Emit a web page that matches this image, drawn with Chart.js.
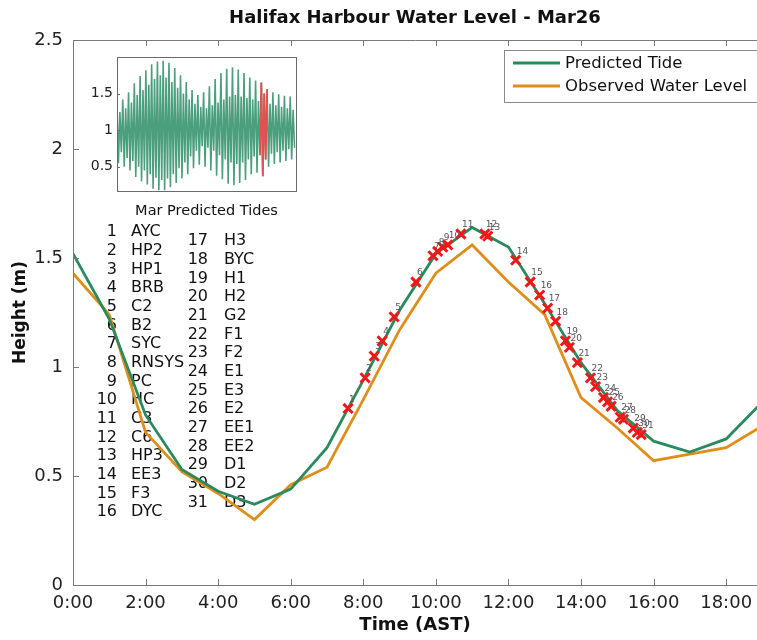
<!DOCTYPE html>
<html>
<head>
<meta charset="utf-8">
<script src="https://cdn.jsdelivr.net/npm/chart.js@4"></script>
<style>
  body { margin: 0; background: #fff; }
  #wrap { position: relative; width: 757px; height: 640px; }
  #main { position: absolute; left: 0; top: 0; }
  #inset { position: absolute; left: 78px; top: 44px; }
</style>
</head>
<body>
<div id="wrap">
  <canvas id="main" width="757" height="640"></canvas>
  <canvas id="inset" width="224" height="178"></canvas>
</div>
<script>
// hourly water levels, Mar 26 (m)
const hours = [0, 1, 2, 3, 4, 5, 6, 7, 8, 9, 10, 11, 12, 13, 14, 15, 16, 17, 18, 19];
const predicted = [1.52, 1.22, 0.78, 0.53, 0.43, 0.37, 0.44, 0.63, 0.94, 1.26, 1.52, 1.64, 1.55, 1.29, 1.02, 0.80, 0.66, 0.61, 0.67, 0.84];
const observed = [1.43, 1.24, 0.70, 0.52, 0.42, 0.30, 0.46, 0.54, 0.85, 1.17, 1.43, 1.56, 1.39, 1.24, 0.86, 0.72, 0.57, 0.60, 0.63, 0.73];

// stations sampled along the predicted tide
const stationNames = ['AYC', 'HP2', 'HP1', 'BRB', 'C2', 'B2', 'SYC', 'RNSYS', 'PC', 'HC', 'C3', 'C6', 'HP3', 'EE3', 'F3', 'DYC',
  'H3', 'BYC', 'H1', 'H2', 'G2', 'F1', 'F2', 'E1', 'E3', 'E2', 'EE1', 'EE2', 'D1', 'D2', 'D3'];
const stationHours = [7.58, 8.05, 8.30, 8.52, 8.85, 9.45, 9.92, 10.05, 10.19, 10.33, 10.69, 11.35, 11.43, 12.2, 12.6, 12.86,
  13.08, 13.3, 13.57, 13.68, 13.9, 14.26, 14.4, 14.62, 14.73, 14.83, 15.08, 15.17, 15.44, 15.55, 15.66];
const stationHeights = [0.81, 0.95, 1.05, 1.12, 1.23, 1.39, 1.51, 1.53, 1.55, 1.56, 1.61, 1.61, 1.60, 1.49, 1.39, 1.33,
  1.27, 1.21, 1.12, 1.09, 1.02, 0.95, 0.91, 0.86, 0.84, 0.82, 0.77, 0.76, 0.72, 0.70, 0.69];

const xTickValues = [0, 2, 4, 6, 8, 10, 12, 14, 16, 18];
const xTickLabels = ['0:00', '2:00', '4:00', '6:00', '8:00', '10:00', '12:00', '14:00', '16:00', '18:00'];
const yTickValues = [0, 0.5, 1, 1.5, 2, 2.5];
const yTickLabels = ['0', '0.5', '1', '1.5', '2', '2.5'];

// March predicted tides: two highs and two lows per day
const marHighA = [1.33, 1.42, 1.52, 1.64, 1.74, 1.82, 1.90, 1.94, 1.95, 1.92, 1.85, 1.75, 1.66, 1.55, 1.48, 1.52,
  1.60, 1.70, 1.78, 1.84, 1.86, 1.83, 1.78, 1.72, 1.68, 1.65, 1.56, 1.52, 1.49, 1.47, 1.46];
const marLowA = [0.55, 0.50, 0.45, 0.36, 0.30, 0.26, 0.20, 0.18, 0.18, 0.22, 0.28, 0.34, 0.40, 0.48, 0.53, 0.50,
  0.45, 0.38, 0.33, 0.27, 0.25, 0.28, 0.32, 0.40, 0.42, 0.37, 0.50, 0.54, 0.56, 0.58, 0.60];
const marHighB = [1.25, 1.30, 1.38, 1.48, 1.55, 1.62, 1.70, 1.75, 1.72, 1.66, 1.58, 1.50, 1.42, 1.36, 1.32, 1.30,
  1.34, 1.38, 1.42, 1.46, 1.48, 1.46, 1.44, 1.42, 1.40, 1.50, 1.36, 1.34, 1.32, 1.30, 1.28];
const marLowB = [0.70, 0.62, 0.58, 0.50, 0.45, 0.40, 0.35, 0.32, 0.34, 0.40, 0.48, 0.56, 0.64, 0.72, 0.78, 0.76,
  0.72, 0.66, 0.60, 0.56, 0.54, 0.56, 0.60, 0.64, 0.66, 0.60, 0.68, 0.70, 0.72, 0.74, 0.76];
const highlightDay = 26;
const insetYTicks = [0.5, 1, 1.5];
const insetYLabels = ['0.5', '1', '1.5'];

const TITLE = 'Halifax Harbour Water Level - Mar26';
const FONT = 'DejaVu Sans';
const GREEN = '#2b8a5d';
const ORANGE = '#e08e1b';
const RED = '#f01818';
const AXIS = '#7a7a7a';

const toXY = (xs, ys) => xs.map((v, i) => ({ x: v, y: ys[i] }));

// ---------- main chart ----------
const frame = {
  id: 'frame',
  beforeDatasetsDraw(chart) {
    const { ctx, chartArea: a } = chart;
    ctx.save();
    // title centred over the plot area
    ctx.font = 'bold 18px ' + FONT;
    ctx.fillStyle = '#111';
    ctx.textAlign = 'center';
    ctx.textBaseline = 'middle';
    ctx.fillText(TITLE, (a.left + a.right) / 2, 18);

    ctx.font = '16px ' + FONT;
    stationNames.forEach((name, i) => {
      const col = i < 16 ? 0 : 1;
      const row = col ? i - 16 : i;
      const y = (col ? 241 : 232) + row * 18.68;
      ctx.textAlign = 'right';
      ctx.fillText(String(i + 1), col ? 208 : 117, y);
      ctx.textAlign = 'left';
      ctx.fillText(name, col ? 224 : 131, y);
    });
    ctx.restore();
  },
  afterDatasetsDraw(chart) {
    const { ctx, chartArea: a, scales: { x, y } } = chart;
    ctx.save();
    // axes box + inward ticks
    ctx.strokeStyle = AXIS;
    ctx.lineWidth = 1;
    ctx.beginPath();
    ctx.moveTo(a.left + 0.5, a.top + 0.5);
    ctx.lineTo(a.left + 0.5, a.bottom + 0.5);
    ctx.lineTo(a.right, a.bottom + 0.5);
    ctx.moveTo(a.left + 0.5, a.top + 0.5);
    ctx.lineTo(a.right, a.top + 0.5);
    xTickValues.forEach(v => {
      const px = Math.round(x.getPixelForValue(v)) + 0.5;
      ctx.moveTo(px, a.bottom); ctx.lineTo(px, a.bottom - 6);
      ctx.moveTo(px, a.top); ctx.lineTo(px, a.top + 6);
    });
    yTickValues.forEach(v => {
      const py = Math.round(y.getPixelForValue(v)) + 0.5;
      ctx.moveTo(a.left, py); ctx.lineTo(a.left + 6, py);
    });
    ctx.stroke();

    // station numbers next to markers
    ctx.font = '9px ' + FONT;
    ctx.fillStyle = '#555';
    ctx.textAlign = 'left';
    ctx.textBaseline = 'middle';
    chart.getDatasetMeta(0).data.forEach((pt, i) => {
      ctx.fillText(String(i + 1), pt.x + 1, pt.y - 9);
    });

    // legend
    const lx = a.right - 253, ly = a.top + 10;
    ctx.fillStyle = '#fff';
    ctx.fillRect(lx, ly, 300, 52);
    ctx.strokeStyle = '#8a8a8a';
    ctx.strokeRect(lx + 0.5, ly + 0.5, 300, 52);
    [[GREEN, 'Predicted Tide'], [ORANGE, 'Observed Water Level']].forEach(([c, t], i) => {
      const yy = ly + 13 + i * 23;
      ctx.strokeStyle = c;
      ctx.lineWidth = 3;
      ctx.beginPath();
      ctx.moveTo(lx + 9, yy); ctx.lineTo(lx + 56, yy);
      ctx.stroke();
      ctx.fillStyle = '#111';
      ctx.font = '16.5px ' + FONT;
      ctx.fillText(t, lx + 61, yy + 1);
    });
    ctx.restore();
  }
};

new Chart(document.getElementById('main'), {
  type: 'line',
  data: {
    datasets: [
      {
        label: 'Stations',
        data: toXY(stationHours, stationHeights),
        showLine: false,
        pointStyle: 'crossRot',
        pointRadius: 6.5,
        pointBorderWidth: 3,
        pointBorderColor: RED,
        pointBackgroundColor: RED
      },
      {
        label: 'Predicted Tide',
        data: toXY(hours, predicted),
        borderColor: GREEN,
        borderWidth: 2.8,
        pointRadius: 0,
        tension: 0
      },
      {
        label: 'Observed Water Level',
        data: toXY(hours, observed),
        borderColor: ORANGE,
        borderWidth: 2.8,
        pointRadius: 0,
        tension: 0
      }
    ]
  },
  options: {
    responsive: false,
    animation: false,
    events: [],
    layout: { padding: { top: 40, left: 0, right: 0, bottom: 0 }, autoPadding: false },
    plugins: {
      legend: { display: false },
      tooltip: { enabled: false },
      title: { display: false }
    },
    scales: {
      x: {
        type: 'linear',
        min: 0,
        max: 18.85,
        grid: { display: false, drawTicks: false },
        border: { display: false },
        afterBuildTicks: s => { s.ticks = xTickValues.map(v => ({ value: v })); },
        afterFit: s => { s.height = 55; s.paddingLeft = 0; s.paddingRight = 0; },
        ticks: {
          callback: (v, i) => xTickLabels[i],
          padding: 8,
          maxRotation: 0,
          autoSkip: false,
          color: '#222',
          font: { family: FONT, size: 18 }
        },
        title: {
          display: true,
          text: 'Time (AST)',
          color: '#111',
          font: { family: FONT, size: 18, weight: 'bold' },
          padding: { top: 0, bottom: 4 }
        }
      },
      y: {
        min: 0,
        max: 2.5,
        grid: { display: false, drawTicks: false },
        border: { display: false },
        afterBuildTicks: s => { s.ticks = yTickValues.map(v => ({ value: v })); },
        afterFit: s => { s.width = 73; s.paddingTop = 0; s.paddingBottom = 0; },
        ticks: {
          callback: (v, i) => yTickLabels[i],
          padding: 10,
          autoSkip: false,
          color: '#222',
          font: { family: FONT, size: 18 }
        },
        title: {
          display: true,
          text: 'Height (m)',
          color: '#111',
          font: { family: FONT, size: 17, weight: 'bold' },
          padding: { top: 10, bottom: 0 }
        }
      }
    }
  },
  plugins: [frame]
});

// ---------- inset: March predicted tides ----------
const marSeries = [];
marHighA.forEach((h, d) => {
  [h, marLowA[d], marHighB[d], marLowB[d]].forEach((v, k) => marSeries.push({ x: d + k / 4, y: v }));
});
const redSeries = marSeries.slice(4 * (highlightDay - 1) - 1, 4 * highlightDay + 1);

const insetFrame = {
  id: 'insetFrame',
  afterDatasetsDraw(chart) {
    const { ctx, chartArea: a, scales: { y } } = chart;
    ctx.save();
    ctx.strokeStyle = '#6a6a6a';
    ctx.lineWidth = 1;
    ctx.strokeRect(a.left + 0.5, a.top + 0.5, a.right - a.left, a.bottom - a.top);
    ctx.beginPath();
    insetYTicks.forEach(v => {
      const py = Math.round(y.getPixelForValue(v)) + 0.5;
      ctx.moveTo(a.left, py); ctx.lineTo(a.left + 3, py);
    });
    ctx.stroke();
    ctx.restore();
  }
};

new Chart(document.getElementById('inset'), {
  type: 'line',
  data: {
    datasets: [
      { data: redSeries, borderColor: '#e0524f', borderWidth: 1.8, pointRadius: 0, tension: 0 },
      { data: marSeries, borderColor: '#4c9f7d', borderWidth: 1.6, pointRadius: 0, tension: 0 }
    ]
  },
  options: {
    responsive: false,
    animation: false,
    events: [],
    layout: { padding: { top: 13, right: 6, bottom: 0, left: 0 }, autoPadding: false },
    plugins: { legend: { display: false }, tooltip: { enabled: false } },
    scales: {
      x: {
        type: 'linear',
        min: 0,
        max: 31,
        grid: { display: false, drawTicks: false },
        border: { display: false },
        ticks: { display: false },
        afterFit: s => { s.height = 31; s.paddingLeft = 0; s.paddingRight = 0; },
        title: {
          display: true,
          text: 'Mar Predicted Tides',
          color: '#111',
          font: { family: FONT, size: 14.5 },
          padding: { top: 0, bottom: 2 }
        }
      },
      y: {
        min: 0.17,
        max: 2.0,
        grid: { display: false, drawTicks: false },
        border: { display: false },
        afterBuildTicks: s => { s.ticks = insetYTicks.map(v => ({ value: v })); },
        afterFit: s => { s.width = 39; s.paddingTop = 0; s.paddingBottom = 0; },
        ticks: {
          callback: (v, i) => insetYLabels[i],
          padding: 4,
          autoSkip: false,
          color: '#222',
          font: { family: FONT, size: 14 }
        }
      }
    }
  },
  plugins: [insetFrame]
});
</script>
</body>
</html>
